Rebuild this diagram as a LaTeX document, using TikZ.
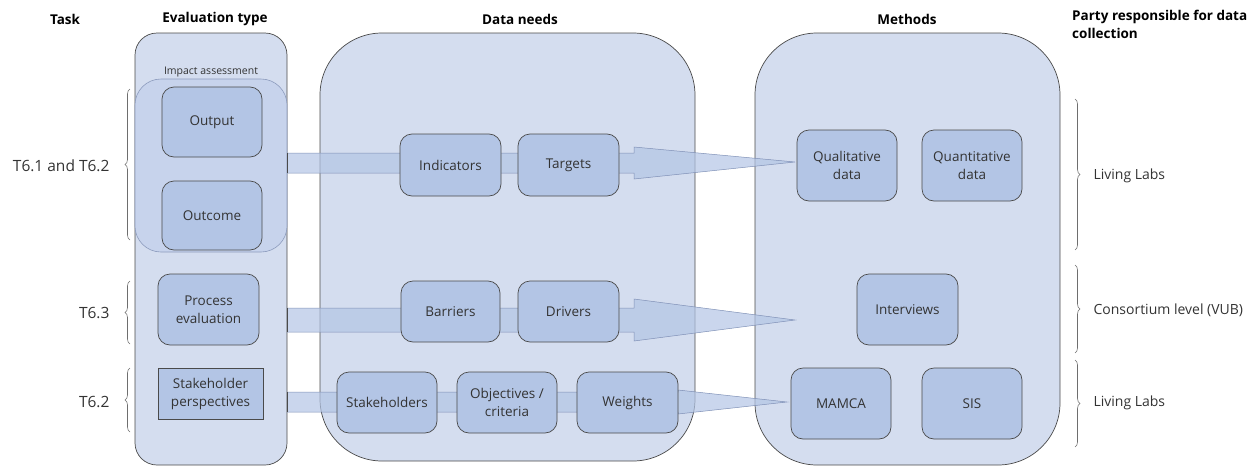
\documentclass[tikz,border=0pt]{standalone}
\usepackage{fontspec}
\setmainfont{Open Sans}
\usetikzlibrary{calc,decorations.pathreplacing}
\definecolor{boxfill}{HTML}{D4DDEF}
\definecolor{nodefill}{HTML}{B3C5E5}
\definecolor{impactfill}{HTML}{C7D3EC}
\definecolor{bandfill}{HTML}{B3C5E5}
\definecolor{bandline}{HTML}{7F90B6}
\definecolor{edgegray}{HTML}{4A4A4A}
\definecolor{textgray}{HTML}{333333}
\tikzset{every outer/.style={draw=edgegray, fill=boxfill, line width=0.7pt, inner sep=0pt},
        every method/.style={draw=edgegray, fill=nodefill, line width=0.7pt, rounded corners=12pt,
                             inner sep=0pt, align=center, text=textgray,
                             font=\fontsize{13.5}{18}\selectfont},
        every head/.style={font=\bfseries\fontsize{13.5}{18}\selectfont, text=black},
        every task/.style={font=\fontsize{15.5}{18}\selectfont, text=textgray, anchor=east},
        every party/.style={font=\fontsize{14}{16}\selectfont, text=textgray, anchor=west},
        band/.style={fill=bandfill, fill opacity=0.7, draw=bandline, line width=0.5pt},
        bracket/.style={draw=edgegray!80, line width=0.6pt, decorate, decoration={brace, amplitude=5pt}},
        }

\begin{document}
\begin{tikzpicture}[x=1pt, y=-1pt]
    \useasboundingbox (0,0) rectangle (1259,466);

    % column headings
    \node[every head] (taskhead) at (65,19) {Task};
    \node[every head] (evalhead) at (215,19) {Evaluation type};
    \node[every head] (datahead) at (520,19) {Data needs};
    \node[every head] (methodhead) at (907,19) {Methods};
    \node[every head, anchor=north west, align=left, inner sep=0pt] (partyhead) at (1072,10) {Party responsible for data\\collection};

    % big containers
    \node[every outer, rounded corners=22pt, minimum width=152pt, minimum height=432pt] (evalbox) at (211,249) {};
    \node[every outer, rounded corners=62pt, minimum width=375pt, minimum height=428pt] (databox) at (507.5,247) {};
    \node[every outer, rounded corners=62pt, minimum width=305pt, minimum height=432pt] (methodbox) at (907.5,249) {};
    \node[draw=bandline!90, fill=impactfill, line width=0.6pt, rounded corners=26pt, inner sep=0pt,
          minimum width=152pt, minimum height=173pt,
          label={[font=\fontsize{10.5}{12}\selectfont, text=textgray, inner sep=1pt]above:Impact assessment}] (impact) at (211,165.5) {};

    % tips of the bands
    \coordinate (tipA) at (795,162);
    \coordinate (tipB) at (795,320);
    \coordinate (tipC) at (787,402);

    % bands from evaluation type to methods
    \draw[band] (evalbox.east |- 0,153) -- (634,153) -- (634,147) -- (tipA)
        -- (634,179) -- (634,173) -- (evalbox.east |- 0,173) -- cycle;
    \draw[band] (evalbox.east |- 0,308) -- (634,308) -- (634,299) -- (tipB)
        -- (634,341) -- (634,332) -- (evalbox.east |- 0,332) -- cycle;
    \draw[band] (evalbox.east |- 0,392) -- (678,392) -- (678,390) -- (tipC)
        -- (678,414) -- (678,412) -- (evalbox.east |- 0,412) -- cycle;
    \draw[edgegray, line width=1pt] (evalbox.east |- 0,153) -- (evalbox.east |- 0,173);
    \draw[edgegray, line width=1pt] (evalbox.east |- 0,308) -- (evalbox.east |- 0,332);
    \draw[edgegray, line width=1pt] (evalbox.east |- 0,392) -- (evalbox.east |- 0,412);

    % evaluation type
    \node[every method, minimum width=100pt, minimum height=70pt] (output) at (212,122) {Output};
    \node[every method, minimum width=100pt, minimum height=69pt] (outcome) at (212,215.5) {Outcome};
    \node[every method, minimum width=101pt, minimum height=71pt] (process) at (208.5,309.5) {Process\\evaluation};
    \node[every method, rounded corners=0pt, minimum width=105pt, minimum height=51pt] (stakepersp) at (210.5,393.5) {Stakeholder\\perspectives};

    % data needs
    \node[every method, minimum width=101pt, minimum height=62pt] (indicators) at (450.5,165) {Indicators};
    \node[every method, minimum width=101pt, minimum height=62pt] (targets) at (568.5,165) {Targets};
    \node[every method, minimum width=99pt, minimum height=61pt] (barriers) at (450.5,311.5) {Barriers};
    \node[every method, minimum width=101pt, minimum height=61pt] (drivers) at (568.5,311.5) {Drivers};
    \node[every method, minimum width=100pt, minimum height=61pt] (stakeholders) at (387,402.5) {Stakeholders};
    \node[every method, minimum width=100pt, minimum height=61pt] (objectives) at (507,402.5) {Objectives /\\criteria};
    \node[every method, minimum width=101pt, minimum height=61pt] (weights) at (627.5,402.5) {Weights};

    % methods
    \node[every method, minimum width=100pt, minimum height=71pt] (qualitative) at (847,165.5) {Qualitative\\data};
    \node[every method, minimum width=100pt, minimum height=71pt] (quantitative) at (972,165.5) {Quantitative\\data};
    \node[every method, minimum width=101pt, minimum height=71pt] (interviews) at (907.5,309.5) {Interviews};
    \node[every method, minimum width=100pt, minimum height=71pt] (mamca) at (841,403.5) {MAMCA};
    \node[every method, minimum width=100pt, minimum height=71pt] (sis) at (972,403.5) {SIS};

    % tasks
    \draw[bracket] (130,240) -- (130,89);
    \draw[bracket] (130,344) -- (130,281);
    \draw[bracket] (130,432) -- (130,368);
    \node[every task] (taskA) at (113,166) {T6.1 and T6.2};
    \node[every task] (taskB) at (113,313) {T6.3};
    \node[every task] (taskC) at (113,402) {T6.2};

    % parties
    \draw[bracket] (1075,99) -- (1075,250);
    \draw[bracket] (1075,265) -- (1075,353);
    \draw[bracket] (1075,360) -- (1075,447);
    \node[every party] (partyA) at (1090,176) {Living Labs};
    \node[every party] (partyB) at (1090,310) {Consortium level (VUB)};
    \node[every party] (partyC) at (1090,403) {Living Labs};

\end{tikzpicture}
\end{document}
